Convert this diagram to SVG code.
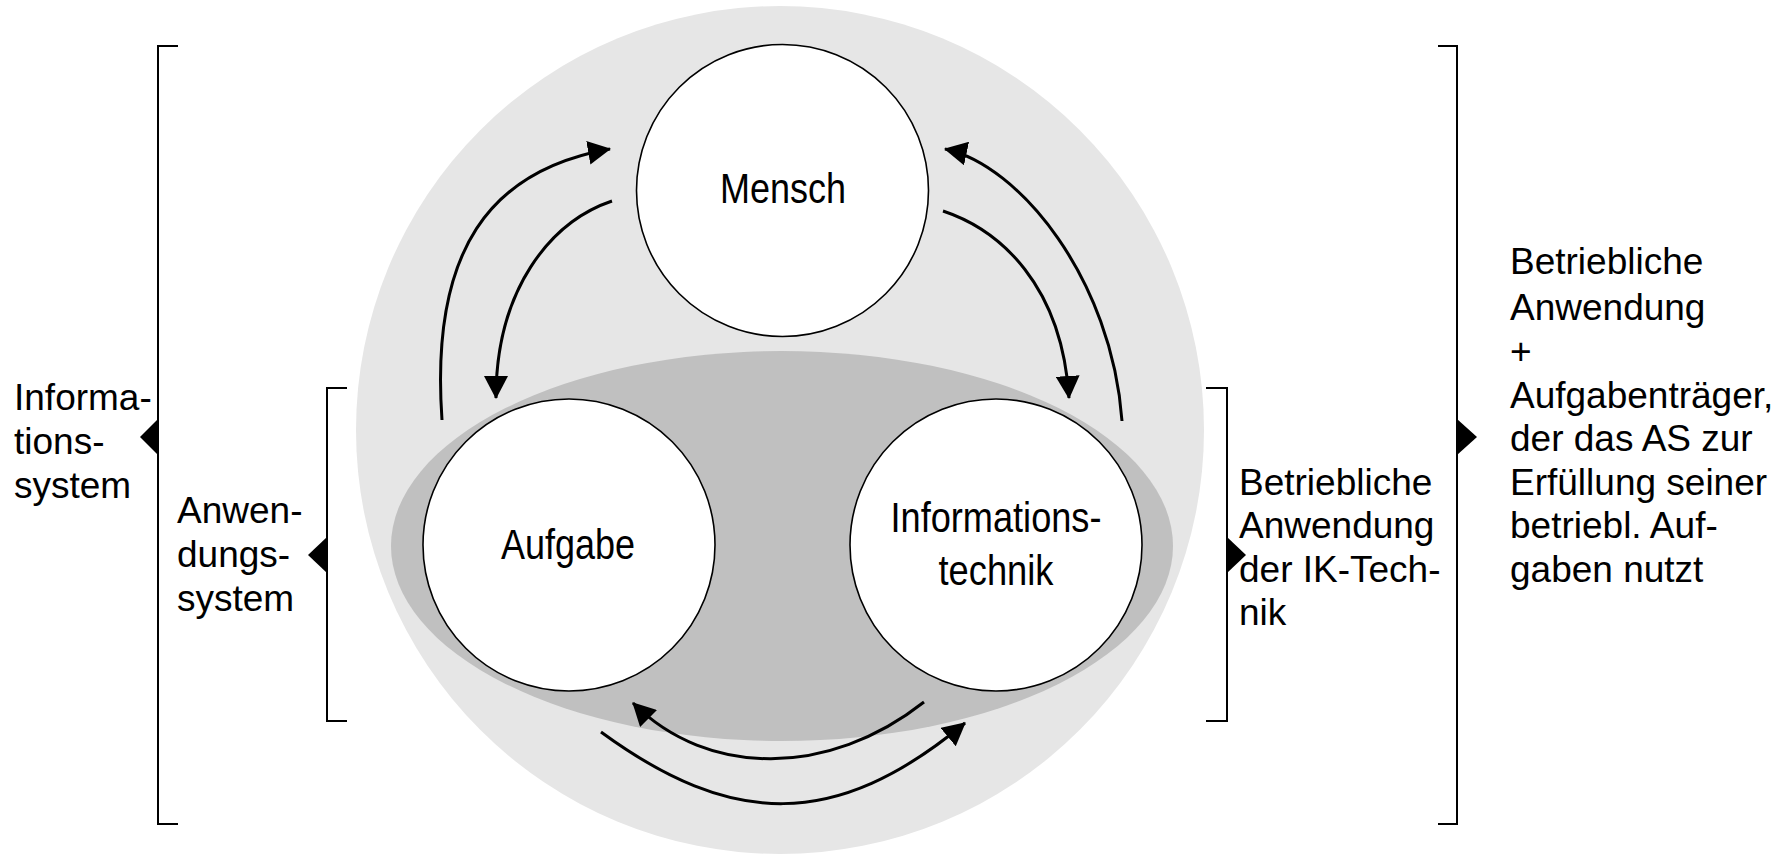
<svg xmlns="http://www.w3.org/2000/svg" width="1789" height="856" viewBox="0 0 1789 856">
<defs>
<style>
.lbl{font-family:"Liberation Sans",Arial,sans-serif;font-size:37px;fill:#000}
.nl{font-family:"Liberation Sans",Arial,sans-serif;font-size:43px;fill:#000;text-anchor:middle}
.node{fill:#fff;stroke:#000;stroke-width:1.6}
.br{fill:none;stroke:#000;stroke-width:2}
.tri{fill:#000}
.arr{fill:none;stroke:#000;stroke-width:3;marker-end:url(#ah)}
</style>
<marker id="ah" viewBox="0 0 23 24" refX="22" refY="12" markerWidth="23" markerHeight="24" markerUnits="userSpaceOnUse" orient="auto">
<path d="M0,0 L23,12 L0,24 Z" fill="#000"/>
</marker>
</defs>
<rect width="1789" height="856" fill="#fff"/>
<g id="background">
<circle cx="780" cy="430" r="424" fill="#e6e6e6"/>
<ellipse cx="782" cy="546" rx="391" ry="195" fill="#c0c0c0"/>
</g>
<g id="node-mensch">
<circle class="node" cx="782.5" cy="190.5" r="146"/>
<text class="nl" x="783" y="203" textLength="126" lengthAdjust="spacingAndGlyphs">Mensch</text>
</g>
<g id="node-aufgabe">
<circle class="node" cx="569" cy="545" r="146"/>
<text class="nl" x="568" y="559" textLength="134" lengthAdjust="spacingAndGlyphs">Aufgabe</text>
</g>
<g id="node-informationstechnik">
<circle class="node" cx="996" cy="545" r="146"/>
<text class="nl" x="996" y="532" textLength="211" lengthAdjust="spacingAndGlyphs">Informations-</text>
<text class="nl" x="996" y="585" textLength="115" lengthAdjust="spacingAndGlyphs">technik</text>
</g>
<g id="connectors">
<path class="arr" d="M442,420 C430,250 490,170 610,149"/>
<path class="arr" d="M612,201 C550,222 496,290 496,398"/>
<path class="arr" d="M943,211 C1000,230 1062,285 1069,398"/>
<path class="arr" d="M1122,421 C1112,280 1020,165 945,149"/>
<path class="arr" d="M924,702 C829,777 708,778 633,703"/>
<path class="arr" d="M601,732 C731,827 835,831 965,723"/>
</g>
<g id="bracket-informationssystem">
<path class="br" d="M178,46 H158 V824 H178"/>
<path class="tri" d="M158,419 L140,437 L158,455 Z"/>
<text class="lbl" x="14" y="410">Informa-</text>
<text class="lbl" x="14" y="454">tions-</text>
<text class="lbl" x="14" y="498">system</text>
</g>
<g id="bracket-anwendungssystem">
<path class="br" d="M347,388 H327 V721 H347"/>
<path class="tri" d="M327,537 L308,555 L327,573 Z"/>
<text class="lbl" x="177" y="523">Anwen-</text>
<text class="lbl" x="177" y="567">dungs-</text>
<text class="lbl" x="177" y="611">system</text>
</g>
<g id="bracket-betriebliche-anwendung">
<path class="br" d="M1206,388 H1227 V721 H1206"/>
<path class="tri" d="M1227,537 L1246,555 L1227,573 Z"/>
<text class="lbl" x="1239" y="494.5">Betriebliche</text>
<text class="lbl" x="1239" y="538">Anwendung</text>
<text class="lbl" x="1239" y="581.5">der IK-Tech-</text>
<text class="lbl" x="1239" y="625">nik</text>
</g>
<g id="bracket-aufgabentraeger">
<path class="br" d="M1438,46 H1457 V824 H1438"/>
<path class="tri" d="M1457,419 L1477,437 L1457,455 Z"/>
<text class="lbl" x="1510" y="274">Betriebliche</text>
<text class="lbl" x="1510" y="320">Anwendung</text>
<text class="lbl" x="1510" y="364">+</text>
<text class="lbl" x="1510" y="407.5">Aufgabenträger,</text>
<text class="lbl" x="1510" y="451">der das AS zur</text>
<text class="lbl" x="1510" y="494.5">Erfüllung seiner</text>
<text class="lbl" x="1510" y="538">betriebl. Auf-</text>
<text class="lbl" x="1510" y="581.5">gaben nutzt</text>
</g>
</svg>
